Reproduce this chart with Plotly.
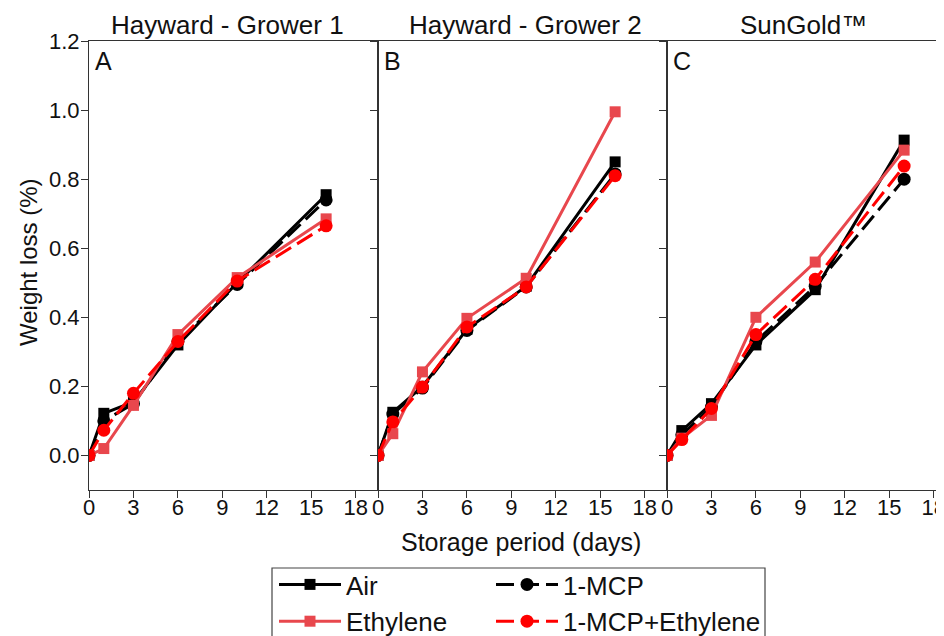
import plotly.graph_objects as go

days = [0, 1, 3, 6, 10, 16]

panel_titles = ["Hayward - Grower 1", "Hayward - Grower 2", "SunGold™"]
panel_letters = ["A", "B", "C"]
series_names = ["Air", "1-MCP", "Ethylene", "1-MCP+Ethylene"]

air_A = [0, 0.122, 0.155, 0.32, 0.50, 0.755]
mcp_A = [0, 0.10, 0.15, 0.33, 0.495, 0.74]
eth_A = [0, 0.02, 0.145, 0.35, 0.515, 0.685]
mcpeth_A = [0, 0.073, 0.18, 0.33, 0.505, 0.665]

air_B = [0, 0.125, 0.20, 0.365, 0.49, 0.85]
mcp_B = [0, 0.12, 0.195, 0.362, 0.488, 0.815]
eth_B = [0, 0.063, 0.242, 0.397, 0.513, 0.995]
mcpeth_B = [0, 0.097, 0.198, 0.372, 0.488, 0.81]

air_C = [0, 0.072, 0.15, 0.32, 0.48, 0.913]
mcp_C = [0, 0.06, 0.14, 0.33, 0.49, 0.80]
eth_C = [0, 0.05, 0.116, 0.40, 0.56, 0.884]
mcpeth_C = [0, 0.046, 0.136, 0.35, 0.51, 0.838]

x_ticks = [0, 3, 6, 9, 12, 15, 18]
y_ticks = [0.0, 0.2, 0.4, 0.6, 0.8, 1.0, 1.2]

panels = [
    [air_A, mcp_A, eth_A, mcpeth_A],
    [air_B, mcp_B, eth_B, mcpeth_B],
    [air_C, mcp_C, eth_C, mcpeth_C],
]

FONT = "Arial, Liberation Sans, sans-serif"
OFF = 8  # page body margin offset
REF_W, REF_H = 944, 636
ref_l, ref_t, ref_b = 89, 41, 490  # plot area edges in the page
W, H = REF_W, REF_H - OFF
ml, mt = ref_l - OFF, ref_t - OFF
mr = OFF
mb = REF_H - ref_b
pw = W - ml - mr
ph = H - mt - mb


def px(xp):
    return (xp - ref_l) / pw


def py(yp):
    return (ref_b - yp) / ph


styles = [
    dict(color="#000000", dash="solid", symbol="square", size=11, legend="legend"),
    dict(color="#000000", dash="18px,7px", symbol="circle", size=13, legend="legend2"),
    dict(color="#E8474D", dash="solid", symbol="square", size=11, legend="legend"),
    dict(color="#FF0000", dash="18px,7px", symbol="circle", size=13, legend="legend2"),
]

fig = go.Figure()
px_per_unit = 289 / 19.5
domains = [(0, 289 / pw), (289 / pw, 578 / pw), (578 / pw, 1.0)]
for p, data in enumerate(panels):
    xa = "x" if p == 0 else f"x{p+1}"
    ya = "y" if p == 0 else f"y{p+1}"
    for s, vals in enumerate(data):
        st = styles[s]
        fig.add_trace(go.Scatter(
            x=days, y=vals, name=series_names[s], mode="lines+markers",
            xaxis=xa, yaxis=ya,
            line=dict(color=st["color"], width=3, dash=st["dash"]),
            marker=dict(color=st["color"], symbol=st["symbol"], size=st["size"]),
            showlegend=(p == 0), legend=st["legend"],
        ))

axis_common = dict(showline=True, mirror=True, linecolor="#333", linewidth=1.2,
                   ticks="outside", ticklen=7, tickcolor="#333", showgrid=False,
                   zeroline=False, automargin=False,
                   tickfont=dict(family=FONT, size=22, color="#111"))
layout = {}
for p in range(3):
    xk = "xaxis" if p == 0 else f"xaxis{p+1}"
    yk = "yaxis" if p == 0 else f"yaxis{p+1}"
    d0, d1 = domains[p]
    xr = 19.5 if p < 2 else (d1 - d0) * pw / px_per_unit
    layout[xk] = dict(axis_common, domain=[d0, d1], range=[0, xr], tickvals=x_ticks,
                      ticklabelstandoff=-10, ticklabeloverflow="allow",
                      anchor="y" if p == 0 else f"y{p+1}")
    layout[yk] = dict(axis_common, domain=[0, 1], range=[-0.1, 1.2], tickvals=y_ticks,
                      tickformat=".1f", showticklabels=(p == 0), ticklabelstandoff=-3,
                      anchor="x" if p == 0 else f"x{p+1}")

fig.update_layout(**layout)

ann = []
title_centers = [227, 525, 803]
for p in range(3):
    ann.append(dict(text=panel_titles[p], x=px(title_centers[p]), y=py(25),
                    xref="paper", yref="paper", showarrow=False, xanchor="center", yanchor="middle",
                    font=dict(family=FONT, size=26, color="#111")))
    ann.append(dict(text=panel_letters[p], x=domains[p][0] + 4 / pw, y=1 - 4 / ph,
                    xref="paper", yref="paper", showarrow=False, xanchor="left", yanchor="top",
                    font=dict(family=FONT, size=25, color="#111")))
ann.append(dict(text="Storage period (days)", x=px(521), y=py(542),
                xref="paper", yref="paper", showarrow=False, xanchor="center", yanchor="middle",
                font=dict(family=FONT, size=25, color="#111")))
ann.append(dict(text="Weight loss (%)", x=px(28), y=py(262), textangle=-90,
                xref="paper", yref="paper", showarrow=False, xanchor="center", yanchor="middle",
                font=dict(family=FONT, size=24, color="#111")))

leg_common = dict(orientation="v", yanchor="top", xanchor="left", itemwidth=62,
                  font=dict(family=FONT, size=26, color="#111"), bgcolor="rgba(0,0,0,0)",
                  borderwidth=0, tracegroupgap=0, itemclick=False)
fig.update_layout(
    width=W, height=H,
    margin=dict(l=ml, r=mr, t=mt, b=mb, autoexpand=False),
    paper_bgcolor="white", plot_bgcolor="white",
    annotations=ann,
    legend=dict(leg_common, x=px(274), y=py(561)),
    legend2=dict(leg_common, x=px(491), y=py(561)),
    shapes=[dict(type="rect", xref="paper", yref="paper",
                 x0=px(272), x1=px(765), y0=py(568), y1=py(660),
                 line=dict(color="#444", width=1.2))],
)

fig.write_html("out.html")
